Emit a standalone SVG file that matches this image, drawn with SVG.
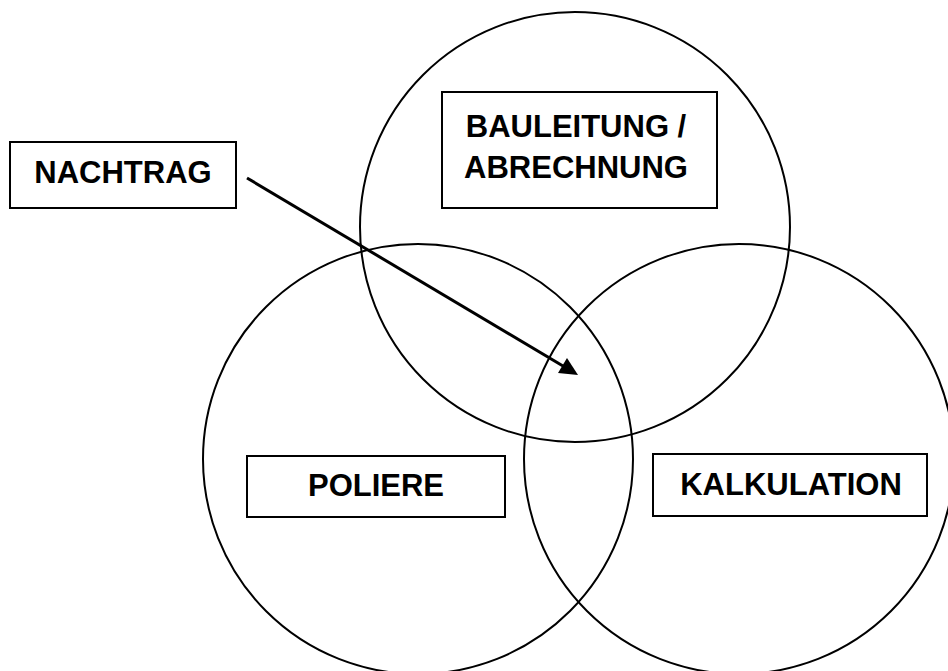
<svg xmlns="http://www.w3.org/2000/svg" width="948" height="671" viewBox="0 0 948 671">
<style>
.c{fill:none;stroke:#000;stroke-width:2}
.b{fill:#fff;stroke:#000;stroke-width:2}
.t{font-family:"Liberation Sans",Arial,sans-serif;font-weight:bold;font-size:31px;fill:#000;text-anchor:middle}
</style>
<rect width="948" height="671" fill="#fff"/>
<g id="circles">
<circle id="circle-top" class="c" cx="575" cy="227" r="215"/>
<circle id="circle-left" class="c" cx="418" cy="459" r="215"/>
<circle id="circle-right" class="c" cx="739" cy="459" r="215"/>
</g>
<g id="node-bauleitung">
<rect class="b" x="442" y="92" width="275" height="116"/>
<text class="t" x="576" y="137">BAULEITUNG /</text>
<text class="t" x="576" y="178">ABRECHNUNG</text>
</g>
<g id="node-poliere">
<rect class="b" x="247" y="456" width="258" height="61"/>
<text class="t" x="376" y="496">POLIERE</text>
</g>
<g id="node-kalkulation">
<rect class="b" x="653" y="454" width="274" height="62"/>
<text class="t" x="791" y="495">KALKULATION</text>
</g>
<g id="node-nachtrag">
<rect class="b" x="10" y="142" width="226" height="66"/>
<text class="t" x="123" y="183">NACHTRAG</text>
</g>
<g id="connectors">
<path d="M247,178 L563,366" stroke="#000" stroke-width="3" fill="none"/>
<path d="M578,375 L558,373 L567,358 z" fill="#000"/>
</g>
</svg>
